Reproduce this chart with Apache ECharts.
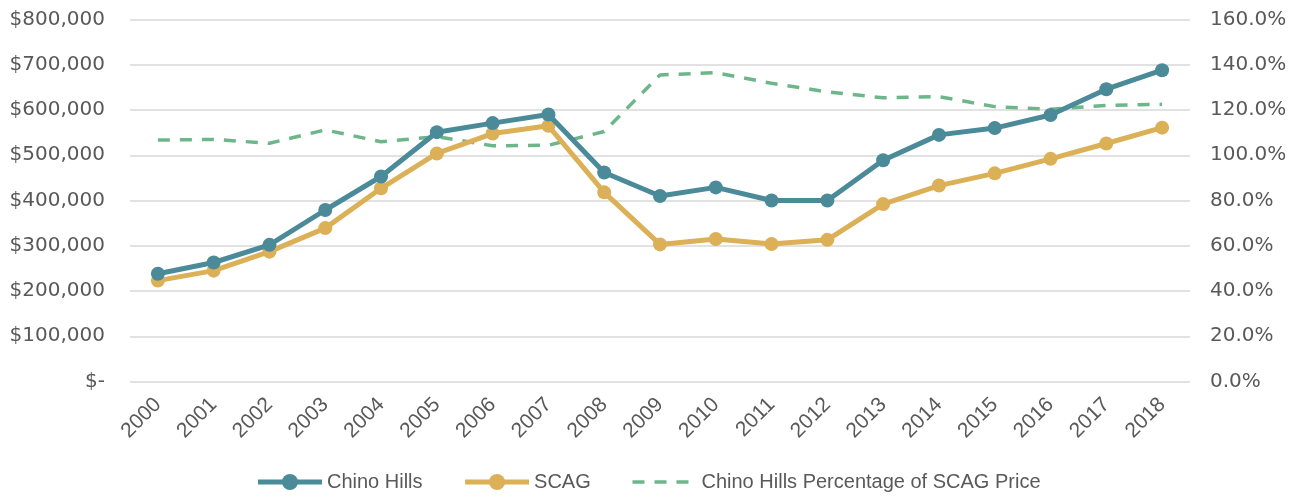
<!DOCTYPE html>
<html>
<head>
<meta charset="utf-8">
<script src="https://cdn.jsdelivr.net/npm/echarts@6/dist/echarts.min.js"></script>
<style>
  html, body { margin: 0; padding: 0; background: #fff; }
  #chart { width: 1296px; height: 500px; }
</style>
</head>
<body>
<div id="chart"></div>
<script>
const years = ['2000', '2001', '2002', '2003', '2004', '2005', '2006', '2007', '2008', '2009',
  '2010', '2011', '2012', '2013', '2014', '2015', '2016', '2017', '2018']
const chinoHills = [238000, 263000, 302000, 379000, 453000, 551000, 571000, 590000, 462000, 410000,
  429000, 400000, 400000, 489000, 545000, 560000, 589000, 646000, 688000]
const scag = [223000, 245000, 287000, 339000, 427000, 504000, 548000, 565000, 418000, 303000,
  315000, 304000, 313000, 392000, 433000, 460000, 492000, 526000, 561000]
const pct = [106.7, 107.0, 105.3, 111.2, 106.0, 108.2, 104.2, 104.4, 110.5, 135.5,
  136.5, 131.8, 128.0, 125.4, 125.9, 121.5, 120.3, 122.0, 122.5]

const textColor = '#595959'
const font = 'Liberation Sans'

const chart = echarts.init(document.getElementById('chart'))

function money(v) {
  if (v === 0) return '$-'
  return '$' + v.toLocaleString('en-US')
}

chart.setOption({
  animation: false,
  textStyle: { fontFamily: font },
  grid: {
    left: 130,
    right: 106,
    top: 19.5,
    bottom: 118.5,
    containLabel: false
  },
  legend: {
    bottom: 3,
    left: 'center',
    itemWidth: 64,
    itemHeight: 20,
    itemGap: 40,
    lineStyle: { width: 5 },
    textStyle: { color: textColor, fontSize: 20, fontFamily: font },
    data: [
      'Chino Hills',
      'SCAG',
      {
        name: 'Chino Hills Percentage of SCAG Price',
        itemStyle: { opacity: 0 },
        lineStyle: { width: 3.5, type: [12, 10] }
      }
    ]
  },
  xAxis: {
    type: 'category',
    data: years,
    boundaryGap: true,
    axisLine: { show: false },
    axisTick: { show: false },
    axisLabel: {
      rotate: 45,
      color: textColor,
      fontSize: 21,
      margin: 20,
      interval: 0
    }
  },
  yAxis: [
    {
      type: 'value',
      min: 0,
      max: 800000,
      interval: 100000,
      axisLine: { show: false },
      axisTick: { show: false },
      splitLine: { lineStyle: { color: '#d9d9d9', width: 1.5 } },
      axisLabel: {
        color: textColor,
        fontSize: 20,
        fontFamily: 'DejaVu Sans',
        margin: 25,
        formatter: money
      }
    },
    {
      type: 'value',
      min: 0,
      max: 160,
      interval: 20,
      axisLine: { show: false },
      axisTick: { show: false },
      splitLine: { show: false },
      axisLabel: {
        color: textColor,
        fontSize: 20,
        fontFamily: 'DejaVu Sans',
        margin: 20,
        formatter: v => v.toFixed(1) + '%'
      }
    }
  ],
  series: [
    {
      name: 'Chino Hills',
      type: 'line',
      data: chinoHills,
      symbol: 'circle',
      symbolSize: 14,
      z: 4,
      itemStyle: { color: '#4a8a99' },
      lineStyle: { color: '#4a8a99', width: 5 }
    },
    {
      name: 'SCAG',
      type: 'line',
      data: scag,
      symbol: 'circle',
      symbolSize: 14,
      z: 3,
      itemStyle: { color: '#dcb057' },
      lineStyle: { color: '#dcb057', width: 5 }
    },
    {
      name: 'Chino Hills Percentage of SCAG Price',
      type: 'line',
      yAxisIndex: 1,
      data: pct,
      showSymbol: false,
      symbol: 'none',
      z: 2,
      itemStyle: { color: '#6db68a' },
      lineStyle: { color: '#6db68a', width: 3.5, type: [12, 10] }
    }
  ]
})
</script>
</body>
</html>
